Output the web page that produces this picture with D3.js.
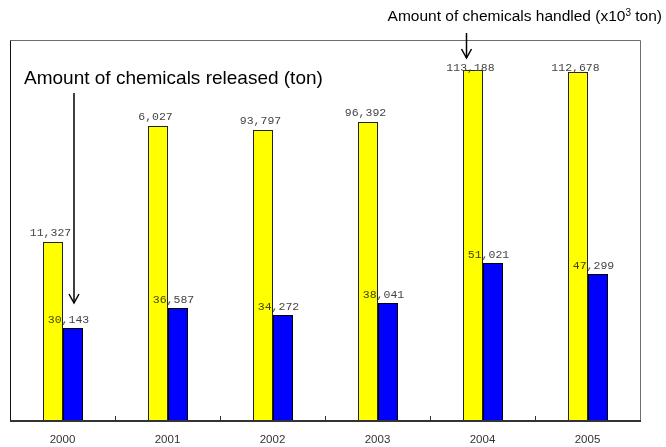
<!DOCTYPE html>
<html>
<head>
<meta charset="utf-8">
<script src="https://cdn.jsdelivr.net/npm/d3@7"></script>
<style>
  html, body { margin: 0; padding: 0; background: #fff; }
  svg { display: block; }
</style>
</head>
<body>
<svg id="chart" width="666" height="447"></svg>
<script>
// ---- data ----
const years = ["2000", "2001", "2002", "2003", "2004", "2005"];
// Amount of chemicals handled (x10^3 ton) - bar heights
const handledValues = [57800, 95200, 93797, 96392, 113188, 112678];
// labels printed above the handled bars (as shown in the picture)
const handledLabels = ["11,327", "6,027", "93,797", "96,392", "113,188", "112,678"];
// Amount of chemicals released (ton)
const releasedValues = [30143, 36587, 34272, 38041, 51021, 47299];
const releasedLabels = ["30,143", "36,587", "34,272", "38,041", "51,021", "47,299"];
const series = ["handled", "released"];

// ---- layout ----
const svg = d3.select("#chart");
const frame = { left: 10, right: 640, top: 40, bottom: 421 };

const x = d3.scaleBand().domain(years).range([frame.left, frame.right]).padding(0);
const bw = x.bandwidth();
const x1 = d3.scaleBand().domain(series).range([bw / 2 - 20, bw / 2 + 20]).padding(0);
const y = d3.scaleLinear().domain([0, 120000]).range([frame.bottom, 49]);

// frame
svg.append("path")
  .attr("d", `M${frame.left + 0.5},${frame.bottom} V${frame.top + 0.5} H${frame.right + 0.5} V${frame.bottom}`)
  .attr("fill", "none").attr("stroke", "#6e6e6e").attr("stroke-width", 1);
svg.append("line")
  .attr("x1", frame.left + 0.5).attr("x2", frame.left + 0.5)
  .attr("y1", frame.top + 0.5).attr("y2", frame.bottom)
  .attr("stroke", "#111");

const groups = svg.append("g").selectAll("g").data(years).join("g")
  .attr("transform", d => `translate(${x(d)},0)`);

// released (blue) bars
groups.append("rect")
  .attr("x", (d) => Math.round(x1("released")) + 0.5)
  .attr("y", (d, i) => Math.round(y(releasedValues[i])) + 0.5)
  .attr("width", x1.bandwidth() - 1)
  .attr("height", (d, i) => frame.bottom - Math.round(y(releasedValues[i])) - 0.5)
  .attr("fill", "#0000ff").attr("stroke", "#000").attr("stroke-width", 1);

// handled (yellow) bars - base
groups.append("rect")
  .attr("x", (d) => Math.round(x1("handled")) + 0.5)
  .attr("y", (d, i) => Math.round(y(handledValues[i])) + 0.5)
  .attr("width", x1.bandwidth() - 1)
  .attr("height", (d, i) => frame.bottom - Math.round(y(handledValues[i])) - 0.5)
  .attr("fill", "#ffff00").attr("stroke", "#222").attr("stroke-width", 1);

// value labels
const labelFont = "'Liberation Mono', 'DejaVu Sans Mono', monospace";
groups.append("text")
  .attr("x", x1("released") + x1.bandwidth() / 2 - 4)
  .attr("y", (d, i) => y(releasedValues[i]) - 5)
  .attr("text-anchor", "middle")
  .attr("font-family", labelFont).attr("font-size", 11.5)
  .attr("fill", "#444")
  .text((d, i) => releasedLabels[i]);

groups.append("text")
  .attr("x", x1("handled") + x1.bandwidth() / 2 - 2)
  .attr("y", (d, i) => Math.max(y(handledValues[i]) - 6, 71))
  .attr("text-anchor", "middle")
  .attr("font-family", labelFont).attr("font-size", 11.5)
  .attr("fill", "#444")
  .text((d, i) => handledLabels[i]);

// yellow overlay (multiply) so labels show through as olive on the yellow bars
groups.append("rect")
  .attr("x", (d) => Math.round(x1("handled")) + 1)
  .attr("y", (d, i) => Math.round(y(handledValues[i])) + 1)
  .attr("width", x1.bandwidth() - 2)
  .attr("height", (d, i) => frame.bottom - Math.round(y(handledValues[i])) - 1)
  .attr("fill", "#ffff00")
  .style("mix-blend-mode", "multiply");

// x axis
const axis = d3.axisBottom(x).tickSize(0).tickPadding(14);
const ax = svg.append("g").attr("transform", `translate(0,${frame.bottom})`).call(axis);
ax.select(".domain").remove();
ax.selectAll("text")
  .attr("font-family", "'Liberation Sans', Arial, sans-serif")
  .attr("font-size", 11.5).attr("fill", "#333");

// boundary ticks
svg.append("g").selectAll("line").data(years.slice(1)).join("line")
  .attr("x1", d => Math.round(x(d)) + 0.5).attr("x2", d => Math.round(x(d)) + 0.5)
  .attr("y1", frame.bottom).attr("y2", frame.bottom - 5)
  .attr("stroke", "#333");

svg.append("line")
  .attr("x1", frame.left).attr("x2", frame.right + 1)
  .attr("y1", frame.bottom).attr("y2", frame.bottom)
  .attr("stroke", "#333").attr("stroke-width", 2);

// annotations
const annoFont = "'Liberation Sans', Arial, sans-serif";
svg.append("text")
  .attr("x", 662).attr("y", 21)
  .attr("text-anchor", "end")
  .attr("font-family", annoFont).attr("font-size", 15.5).attr("fill", "#000")
  .html('Amount of chemicals handled (x10<tspan dy="-5" font-size="10">3</tspan><tspan dy="5"> ton)</tspan>');

svg.append("text")
  .attr("x", 24).attr("y", 84)
  .attr("font-family", annoFont).attr("font-size", 19).attr("fill", "#000")
  .text("Amount of chemicals released (ton)");

function arrow(xp, y0, y1) {
  const g = svg.append("g").attr("stroke", "#000").attr("fill", "none").attr("stroke-width", 1.5);
  g.append("line").attr("x1", xp).attr("x2", xp).attr("y1", y0).attr("y2", y1);
  g.append("path").attr("d", `M${xp - 5},${y1 - 9} L${xp},${y1} L${xp + 5},${y1 - 9}`);
}
arrow(x(years[0]) + x1("released") + 11.5, 93, 303);
arrow(x(years[4]) + x1("handled") + 4, 33, 58);
</script>
</body>
</html>
